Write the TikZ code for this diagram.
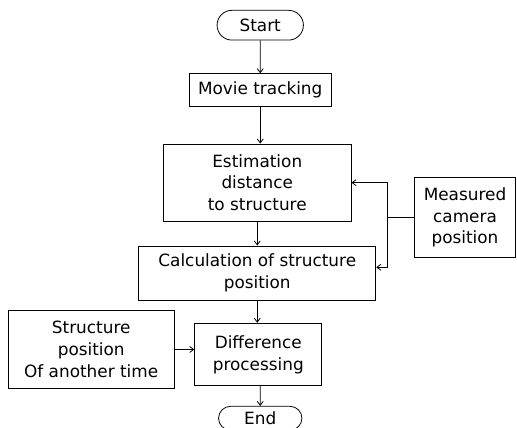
\documentclass[tikz,border=0pt]{standalone}
\usepackage{fontspec}
\setmainfont{DejaVu Sans}
\usepackage{tikz}
\usetikzlibrary{
arrows.meta,
positioning,
shapes.misc,
calc
}

\begin{document}
\begin{tikzpicture}[
font=\fontsize{17}{22}\selectfont,
node distance=30pt,
box/.style={
draw,
line width=0.8pt,
inner sep=2pt,
align=center
},
term/.style={
box,
rounded rectangle,
minimum height=30pt
},
arrow/.style={-{Straight Barb[length=4pt,width=6pt]},line width=0.8pt}
]

\node[term,minimum width=91pt] (start) {Start};

\node[box,below=33pt of start,minimum width=143pt,minimum height=33pt] (movie) {
Movie tracking%
};

\node[box,below=37pt of movie,minimum width=189pt,minimum height=78pt,xshift=-3pt] (est) {
Estimation\\
distance\\
to structure%
};

\node[box,below=24pt of est,minimum width=239pt,minimum height=55pt] (calc) {
Calculation of structure\\
position%
};

\node[box,right=63pt of est,yshift=-35pt,minimum width=102pt,minimum height=80pt] (meas) {
Measured\\
camera\\
position%
};

\node[box,below=22pt of calc,minimum width=128pt,minimum height=63pt,xshift=1pt] (diff) {
Difference\\
processing%
};

\node[box,left=20pt of diff,yshift=5pt,minimum width=167pt,minimum height=78pt] (struct) {
Structure\\
position\\
Of another time%
};

\node[term,below=20pt of diff,xshift=2pt,minimum width=88pt,minimum height=24pt] (end) {End};

\coordinate[left=27pt of meas] (junc);

\draw[arrow] (start) -- (movie);
\draw[arrow] (movie) -- (movie |- est.north);
\draw[arrow] (est) -- (calc);
\draw[arrow] (calc) -- (calc |- diff.north);
\draw[arrow] (struct) -- (struct -| diff.west);
\draw[arrow] (diff.south -| end) -- (end);

\draw[arrow] (meas.west) -- (junc) |- (est.east);
\draw[arrow] (junc) |- ([yshift=6pt]calc.east);

\pgfresetboundingbox
\useasboundingbox ($(struct.west |- start.north)+(-8pt,10pt)$) rectangle ($(meas.east |- end.north)+(1pt,-22pt)$);

\end{tikzpicture}
\end{document}
